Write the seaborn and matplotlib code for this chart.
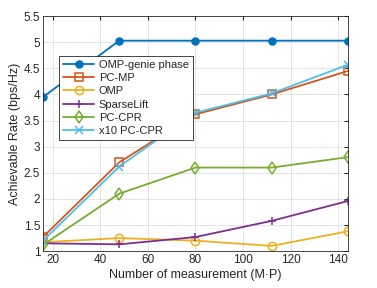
import numpy as np
import pandas as pd
import matplotlib
matplotlib.use('Agg')
import matplotlib.pyplot as plt
import seaborn as sns

x_meas = [16, 48, 80, 112, 144]
omp_genie = [3.95, 5.03, 5.03, 5.03, 5.03]
pc_mp = [1.27, 2.70, 3.62, 4.00, 4.45]
omp = [1.17, 1.25, 1.20, 1.10, 1.38]
sparselift = [1.15, 1.13, 1.27, 1.58, 1.96]
pc_cpr = [1.12, 2.10, 2.60, 2.60, 2.80]
x10_pc_cpr = [1.20, 2.62, 3.65, 4.02, 4.57]

names = ['OMP-genie phase', 'PC-MP', 'OMP', 'SparseLift', 'PC-CPR', 'x10 PC-CPR']
series = [omp_genie, pc_mp, omp, sparselift, pc_cpr, x10_pc_cpr]
colors = ['#0072BD', '#D95319', '#EDB120', '#7E2F8E', '#77AC30', '#4DBEEE']
markers = ['o', 's', 'o', '+', 'd', 'x']
filled = [True, False, False, True, False, True]

sns.set_style('whitegrid')
plt.rcParams['font.family'] = ['Liberation Sans', 'DejaVu Sans']
plt.rcParams['font.size'] = 8

fig = plt.figure(figsize=(3.77, 2.88), dpi=100)
ax = fig.add_axes([0.114, 0.128, 0.809, 0.816])

for name, vals, c, m, f in zip(names, series, colors, markers, filled):
    df = pd.DataFrame({'x': x_meas, 'y': vals})
    kw = dict(markerfacecolor=c if f else 'none', markeredgecolor=c,
              markersize=5 if m == 'o' and f else 6, markeredgewidth=1.1)
    sns.lineplot(data=df, x='x', y='y', ax=ax, color=c, marker=m,
                 linewidth=1.3, label=name, **kw)

ax.set_xlim(16, 144)
ax.set_ylim(1, 5.5)
ax.set_xticks([20, 40, 60, 80, 100, 120, 140])
ax.set_yticks(np.arange(1, 5.51, 0.5))
ax.set_yticklabels(['1', '1.5', '2', '2.5', '3', '3.5', '4', '4.5', '5', '5.5'])
ax.set_xlabel('Number of measurement (M\u00b7P)', fontsize=9, color='#262626', labelpad=2)
ax.set_ylabel('Achievable Rate (bps/Hz)', fontsize=9, color='#262626', labelpad=2)
ax.grid(True, color='#dfdfdf', linewidth=0.6)
for s in ax.spines.values():
    s.set_color('#262626')
    s.set_linewidth(0.6)
ax.tick_params(axis='both', direction='in', length=3, color='#262626',
               labelsize=8.5, labelcolor='#262626', top=True, right=True, pad=2)

leg = ax.legend(loc='upper left', bbox_to_anchor=(0.035, 0.855), fontsize=8,
                frameon=True, fancybox=False, edgecolor='#262626',
                framealpha=1, borderpad=0.35, labelspacing=0.3,
                handlelength=2.8, handletextpad=0.4)
leg.get_frame().set_linewidth(0.6)

fig.savefig('out.png', dpi=100)
